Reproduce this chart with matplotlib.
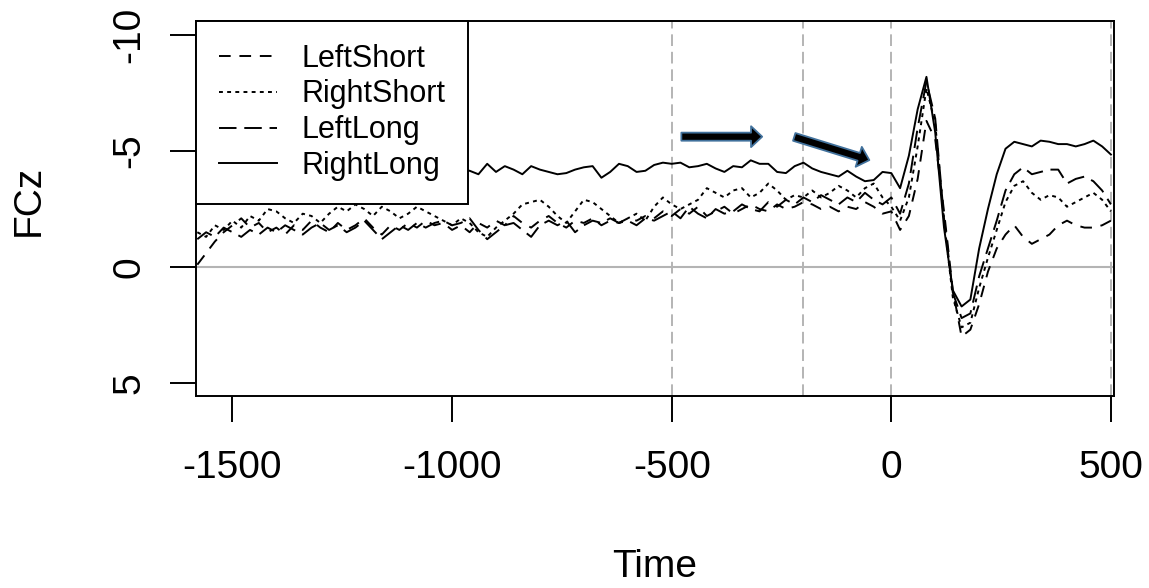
import numpy as np
import matplotlib
matplotlib.use("Agg")
import matplotlib.pyplot as plt
from matplotlib.patches import FancyArrowPatch, ArrowStyle

plt.rcParams['font.family'] = ['Liberation Sans', 'DejaVu Sans']
plt.rcParams['axes.unicode_minus'] = False

# Time axis (ms), 20 ms steps
time = np.arange(-1580, 501, 20)

left_short = [
    -0.1, -0.6, -1.1, -1.5, -1.8, -2.1, -1.7, -1.9, -1.5, -1.7,
    -1.4, -1.8, -1.6, -2.0, -1.7, -1.5, -1.9, -1.6, -1.8, -2.1,
    -1.7, -1.4, -1.8, -1.6, -1.9, -1.7, -2.0, -1.8, -1.9, -1.6,
    -1.8, -1.5, -1.9, -1.7, -2.0, -1.8, -2.2, -1.9, -1.7, -2.0,
    -2.2, -1.9, -1.7, -2.0, -1.9, -2.1, -1.8, -2.0, -1.9, -2.1,
    -2.0, -2.2, -2.1, -2.4, -2.2, -2.5, -2.3, -2.6, -2.2, -2.4,
    -2.6, -2.3, -2.5, -2.7, -2.5, -2.4, -2.7, -2.5, -2.6, -2.8,
    -2.7, -2.5, -2.6, -2.4, -2.6, -2.5, -2.8, -2.6, -2.3, -2.4,
    -1.6, -2.2, -3.8, -6.3, -5.5, -2.4, 1.0, 3.0, 2.7, 1.6,
    0.2, -0.8, -1.4, -1.8, -1.3, -1.0, -1.2, -1.4, -1.8, -2.0,
    -1.8, -1.7, -1.7, -1.8, -2.0,
]

right_short = [
    -1.5, -1.3, -1.8, -1.6, -2.0, -1.7, -2.2, -2.0, -2.5, -2.4,
    -2.1, -1.9, -2.3, -2.2, -1.9, -2.3, -2.6, -2.4, -2.7, -2.5,
    -2.2, -2.6, -2.4, -2.1, -2.3, -2.6, -2.4, -2.2, -2.0, -1.8,
    -2.1, -1.9, -1.5, -1.3, -1.7, -2.0, -2.3, -2.7, -2.8, -2.9,
    -2.6, -2.2, -1.9, -2.4, -2.9, -2.8, -2.5, -2.2, -1.9, -2.1,
    -2.3, -2.0, -2.6, -3.0, -2.7, -2.5, -2.7, -2.9, -3.4, -3.2,
    -3.0, -3.3, -3.4, -3.0, -3.2, -3.6, -3.3, -2.9, -3.1, -3.0,
    -3.3, -3.0, -3.2, -3.5, -3.3, -3.0, -3.4, -3.6, -3.0, -2.6,
    -2.0, -3.0, -5.2, -7.7, -6.2, -2.0, 1.3, 2.6, 2.4, 0.9,
    -0.4, -1.6, -2.8, -3.5, -3.7, -3.2, -2.9, -3.1, -3.0, -2.6,
    -2.8, -3.0, -3.2, -2.9, -2.4,
]

left_long = [
    -1.2, -1.5, -1.3, -1.7, -1.5, -1.3, -1.6, -1.4, -1.7, -1.5,
    -1.8, -1.6, -1.4, -1.7, -1.9, -1.6, -1.8, -1.5, -1.7, -2.0,
    -1.6, -1.2, -1.5, -1.8, -1.6, -1.9, -1.7, -1.9, -2.0, -1.8,
    -1.9, -2.1, -1.6, -1.2, -1.5, -1.8, -1.9, -1.6, -1.3, -1.8,
    -2.0, -1.8, -2.0, -1.5, -1.8, -2.0, -1.9, -2.1, -1.9, -2.0,
    -1.8, -2.1, -2.0, -2.2, -2.4, -2.1, -2.6, -2.3, -2.1, -2.5,
    -2.3, -2.4, -2.7, -2.5, -2.4, -2.8, -2.6, -2.9, -2.7, -3.0,
    -2.8, -3.1, -2.9, -2.7, -3.0, -2.8, -3.2, -2.9, -2.7, -3.0,
    -2.3, -3.6, -6.0, -8.0, -6.4, -2.1, 1.1, 2.2, 2.0, 0.4,
    -0.8, -2.0, -3.3, -4.0, -4.3, -4.0, -4.1, -4.2, -4.2, -3.6,
    -3.8, -3.9, -3.7, -3.3, -2.7,
]

right_long = [
    -4.1, -4.3, -4.0, -4.4, -4.2, -4.5, -4.1, -4.3, -4.0, -4.2,
    -4.4, -4.1, -4.3, -4.0, -4.3, -4.5, -4.2, -4.0, -4.3, -4.1,
    -4.4, -4.2, -4.0, -4.3, -4.1, -4.4, -4.2, -4.0, -4.3, -4.1,
    -4.2, -4.15, -4.0, -4.45, -4.1, -4.35, -4.2, -4.0, -4.35, -4.2,
    -4.1, -4.0, -4.05, -4.2, -4.3, -4.35, -3.85, -4.1, -4.45, -4.35,
    -4.1, -4.15, -4.4, -4.5, -4.45, -4.5, -4.3, -4.35, -4.45, -4.25,
    -4.1, -4.35, -4.3, -4.6, -4.45, -4.45, -4.1, -4.05, -4.35, -4.5,
    -4.25, -4.1, -4.0, -3.9, -4.15, -3.9, -3.7, -3.75, -4.1, -4.05,
    -3.4, -4.8, -6.8, -8.2, -5.8, -1.7, 1.0, 1.7, 1.4, -0.8,
    -2.5, -4.0, -5.1, -5.4, -5.3, -5.2, -5.45, -5.4, -5.3, -5.3,
    -5.2, -5.3, -5.45, -5.2, -4.85,
]

series_names = ["LeftShort", "RightShort", "LeftLong", "RightLong"]
series_values = [left_short, right_short, left_long, right_long]
series_styles = [(0, (6, 4.5)), (0, (2, 2.2)), (0, (9, 4)), "-"]

x_ticks = [-1500, -1000, -500, 0, 500]
y_ticks = [-10, -5, 0, 5]
marker_times = [-500, -200, 0, 500]

fig = plt.figure(figsize=(11.49, 5.88), dpi=100)
ax = fig.add_axes([196 / 1149, 1 - 396 / 588, (1114 - 196) / 1149, (396 - 20.7) / 588])

lw = 1.4
for name, vals, ls in zip(series_names, series_values, series_styles):
    ax.plot(time, vals, color="black", linestyle=ls, linewidth=lw, label=name, zorder=3)

grey = "#b4b4b4"
ax.axhline(0, color=grey, linewidth=1.5, zorder=2)
for t in marker_times:
    ax.axvline(t, color=grey, linewidth=1.4, linestyle=(0, (6, 3)), zorder=2)

ax.set_xlim(-1583, 507)
ax.set_ylim(5.56, -10.62)
ax.set_xticks(x_ticks)
ax.set_xticklabels([str(v) for v in x_ticks])
ax.set_yticks(y_ticks)
ax.set_yticklabels([str(v) for v in y_ticks], rotation=90, va="center")
ax.tick_params(axis="both", direction="out", length=19, width=1.4, labelsize=28, color="black")
ax.tick_params(axis="x", pad=20)
ax.tick_params(axis="y", pad=16)
for sp in ax.spines.values():
    sp.set_linewidth(1.4)
    sp.set_color("black")

ax.set_xlabel("Time", fontsize=28, va="center")
ax.xaxis.set_label_coords(0.5, -0.455)
ax.set_ylabel("FCz", fontsize=28, va="center")
ax.yaxis.set_label_coords(-0.182, 0.52)

# Arrows highlighting the pre-stimulus trend
arrow_style = ArrowStyle.Simple(head_length=8, head_width=15, tail_width=5.8)
arrows = [((-478, -5.62), (-294, -5.62)), ((-221, -5.61), (-50, -4.61))]
for start, end in arrows:
    ax.add_patch(FancyArrowPatch(start, end, arrowstyle=arrow_style, mutation_scale=1,
                                 facecolor="black", edgecolor="#41719C", linewidth=1.3,
                                 shrinkA=0, shrinkB=0, zorder=5))

leg = ax.legend(loc="upper left", bbox_to_anchor=(0, 1), borderaxespad=0, fontsize=22,
                frameon=True, fancybox=False, edgecolor="black", framealpha=1,
                handlelength=1.9, handletextpad=0.8, labelspacing=0.19, borderpad=0.75)
leg.get_frame().set_linewidth(1.4)
leg.set_zorder(10)

fig.savefig("out.png", dpi=100)
